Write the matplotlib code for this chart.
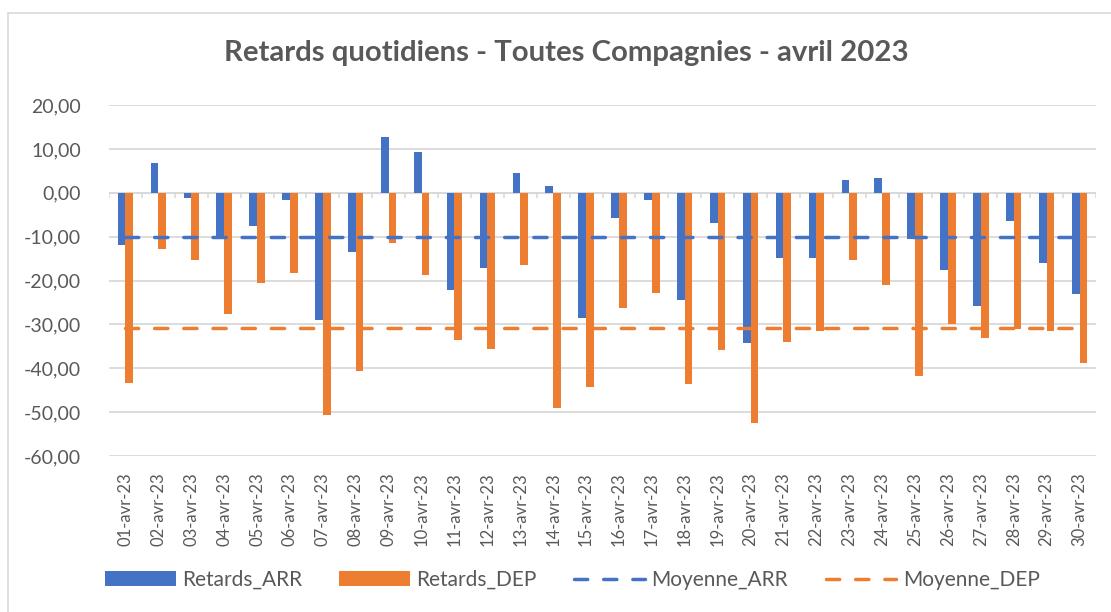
import matplotlib
matplotlib.use("Agg")
import matplotlib.pyplot as plt
from matplotlib.ticker import FuncFormatter
from matplotlib.patches import Rectangle
import numpy as np

plt.rcParams['font.family'] = ['Lato', 'DejaVu Sans']

jours = [f"{d:02d}-avr-23" for d in range(1, 31)]
retards_arr = [-11.8, 6.7, -1.1, -10.1, -7.5, -1.7, -28.9, -13.5, 12.8, 9.4,
               -22.1, -17.2, 4.4, 1.6, -28.5, -5.8, -1.7, -24.4, -6.8, -34.2,
               -14.9, -14.8, 2.8, 3.3, -10.6, -17.6, -25.7, -6.5, -15.9, -23.1]
retards_dep = [-43.3, -12.9, -15.3, -27.6, -20.6, -18.3, -50.6, -40.6, -11.5, -18.7,
               -33.6, -35.5, -16.4, -49.1, -44.3, -26.2, -22.9, -43.5, -35.8, -52.4,
               -34.1, -31.4, -15.4, -21.0, -41.7, -30.0, -33.0, -31.1, -31.4, -38.7]
moyenne_arr_val = -10.1
moyenne_dep_val = -30.9
moyenne_arr = [moyenne_arr_val] * len(jours)
moyenne_dep = [moyenne_dep_val] * len(jours)

BLUE = "#4472C4"
ORANGE = "#ED7D31"
GRID = "#D9D9D9"
TEXT = "#595959"

fig = plt.figure(figsize=(11.11, 6.12), dpi=100)
fig.patches.append(Rectangle((8 / 1111, -0.05), 1.2, 1 - 13 / 612 + 0.05,
                             transform=fig.transFigure, fill=False,
                             edgecolor=GRID, linewidth=1.2))
ax = fig.add_axes([109 / 1111, 1 - 456 / 612, (1096 - 109) / 1111, (456 - 105) / 612])

x = np.arange(len(jours))
w = 0.235
b1 = ax.bar(x - w / 2, retards_arr, width=w, color=BLUE, label="Retards_ARR", zorder=2)
b2 = ax.bar(x + w / 2, retards_dep, width=w, color=ORANGE, label="Retards_DEP", zorder=2)
l1, = ax.plot(x, moyenne_arr, color=BLUE, lw=2.5, dashes=(3.8, 4.6), dash_capstyle='round',
              label="Moyenne_ARR", zorder=3)
l2, = ax.plot(x, moyenne_dep, color=ORANGE, lw=2.5, dashes=(3.8, 4.6), dash_capstyle='round',
              label="Moyenne_DEP", zorder=3)

ax.set_xlim(-0.5, len(jours) - 0.5)
ax.set_ylim(-60, 20)
ax.set_yticks(np.arange(-60, 21, 10))
ax.yaxis.set_major_formatter(FuncFormatter(lambda v, p: f"{v:.2f}".replace(".", ",")))
ax.grid(axis='y', color=GRID, lw=1.3, zorder=0)
ax.set_axisbelow(True)
for s in ax.spines.values():
    s.set_visible(False)
ax.set_xticks(x)
ax.set_xticklabels(jours, rotation=90, fontsize=12, color=TEXT)
ax.tick_params(axis='x', length=0, pad=12)
ax.tick_params(axis='y', length=0, labelsize=14, labelcolor=TEXT, pad=20)

# category axis line at zero with boundary ticks
ax.axhline(0, color=GRID, lw=1.5, zorder=1)
bornes = np.append(x - 0.5, x[-1] + 0.5)
ax.vlines(bornes, -1.15, 0, colors=GRID, lw=1.2, zorder=1)

fig.text(566 / 1111, 1 - 53 / 612, "Retards quotidiens - Toutes Compagnies - avril 2023",
         ha='center', va='center', fontsize=21.2, fontweight='bold', color=TEXT)

leg = fig.legend([b1, b2, l1, l2], ["Retards_ARR", "Retards_DEP", "Moyenne_ARR", "Moyenne_DEP"],
                 loc='center', bbox_to_anchor=(0.515, 1 - 580 / 612),
                 ncol=4, frameon=False, fontsize=15, handlelength=3.4, handleheight=0.75,
                 handletextpad=0.3, columnspacing=1.8, labelcolor=TEXT)

fig.savefig("out.png", dpi=100, facecolor="white")
